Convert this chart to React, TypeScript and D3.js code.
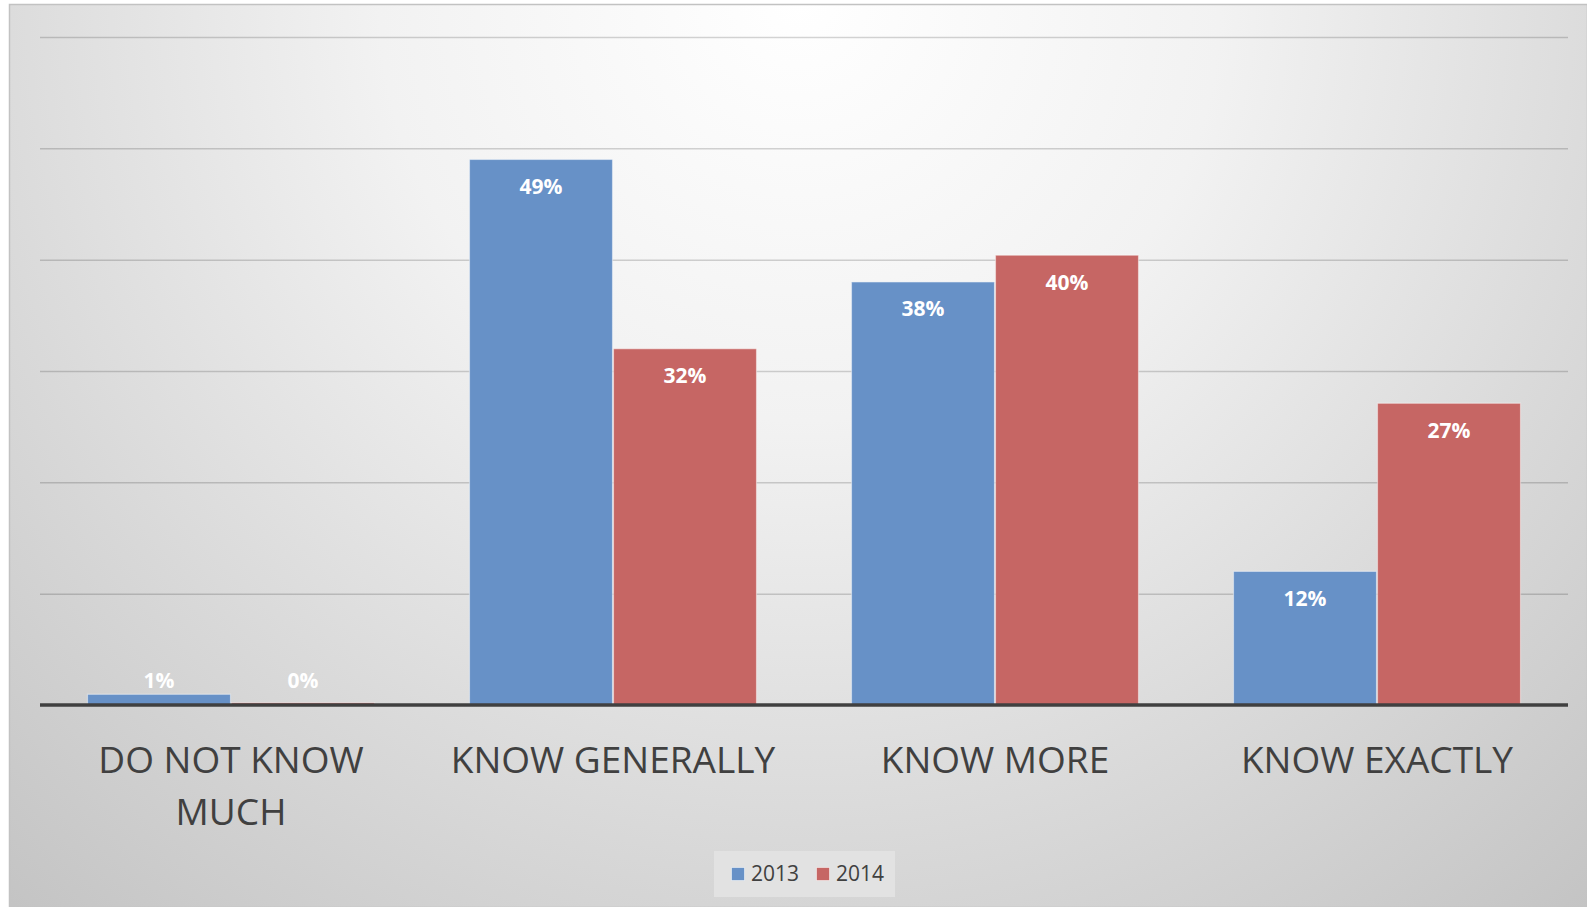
import * as d3 from 'd3';

const categories = ['DO NOT KNOW MUCH', 'KNOW GENERALLY', 'KNOW MORE', 'KNOW EXACTLY'];
const categoryLines = [['DO NOT KNOW', 'MUCH'], ['KNOW GENERALLY'], ['KNOW MORE'], ['KNOW EXACTLY']];
const seriesNames = ['2013', '2014'];
const values2013 = [0.96, 49, 38, 12];
const values2014 = [0.2, 32, 40.4, 27.1];
const labels2013 = ['1%', '49%', '38%', '12%'];
const labels2014 = ['0%', '32%', '40%', '27%'];
const gridTicks = [0, 10, 20, 30, 40, 50, 60];

const W = 1587;
const H = 907;
const colors = ['#6791c7', '#c66664'];
const font = '"Open Sans", "Noto Sans", sans-serif';

export default function App() {
  const left = 40;
  const right = 1568;
  const top = 37;
  const bottom = 705;

  const x = d3.scaleBand<string>().domain(categories).range([left, right]);
  const y = d3.scaleLinear().domain([0, 60]).range([bottom, top]);
  const barW = 144;
  const groupOffset = (x.bandwidth() - barW * 2) / 2;

  const series = [values2013, values2014];
  const labels = [labels2013, labels2014];

  return (
    <svg width={W} height={H} style={{ position: 'absolute', left: 0, top: 0 }}>
      <defs>
        <radialGradient id="bg" gradientUnits="userSpaceOnUse" cx={800} cy={0} r={1200}>
          <stop offset="0" stopColor="#ffffff" />
          <stop offset="0.35" stopColor="#f2f2f2" />
          <stop offset="0.7" stopColor="#d9d9d9" />
          <stop offset="1" stopColor="#c4c4c4" />
        </radialGradient>
      </defs>
      <rect x={0} y={0} width={W} height={H} fill="#ffffff" />
      <rect x={9.5} y={4.5} width={W - 9} height={H - 4} fill="url(#bg)" stroke="#c2c2c2" strokeWidth={1.5} />

      {gridTicks.slice(1).map((t) => (
        <line key={t} x1={left} x2={right} y1={y(t) + 0.5} y2={y(t) + 0.5} stroke="rgba(0,0,0,0.17)" strokeWidth={1.5} />
      ))}

      {categories.map((c, ci) => (
        <g key={c}>
          {series.map((vals, si) => {
            const bx = (x(c) ?? 0) + groupOffset + si * barW;
            const by = y(vals[ci]);
            return (
              <rect
                key={si}
                x={bx + 0.5}
                y={by}
                width={barW - 1}
                height={bottom - by}
                fill={colors[si]}
                stroke="rgba(255,255,255,0.45)"
                strokeWidth={1.2}
              />
            );
          })}
        </g>
      ))}

      <line x1={left} x2={right} y1={bottom} y2={bottom} stroke="#404040" strokeWidth={3.5} />

      {categories.map((c, ci) =>
        series.map((vals, si) => {
          const cx = (x(c) ?? 0) + groupOffset + si * barW + barW / 2;
          const by = y(vals[ci]);
          const small = bottom - by < 40;
          const ty = small ? Math.min(by, y(1)) - 13 : by + 27;
          return (
            <text
              key={`${ci}-${si}`}
              x={cx}
              y={ty}
              dy="0.35em"
              textAnchor="middle"
              fill="#ffffff"
              fontFamily={font}
              fontWeight={700}
              fontSize={21}
            >
              {labels[si][ci]}
            </text>
          );
        })
      )}

      {categories.map((c, ci) => (
        <text
          key={c}
          textAnchor="middle"
          fill="#404040"
          fontFamily={font}
          fontSize={37}
        >
          {categoryLines[ci].map((ln, li) => (
            <tspan key={li} x={(x(c) ?? 0) + x.bandwidth() / 2} y={760 + li * 52} dy="0.35em">
              {ln}
            </tspan>
          ))}
        </text>
      ))}

      <g>
        <rect x={714} y={851} width={181} height={46} fill="#e2e2e2" />
        {seriesNames.map((s, i) => (
          <g key={s} transform={`translate(${731 + i * 85},0)`}>
            <rect x={0.5} y={867.5} width={13} height={13} fill={colors[i]} stroke="rgba(255,255,255,0.5)" />
            <text x={20} y={874} dy="0.35em" fill="#404040" fontFamily={font} fontSize={21}>
              {s}
            </text>
          </g>
        ))}
      </g>
    </svg>
  );
}
